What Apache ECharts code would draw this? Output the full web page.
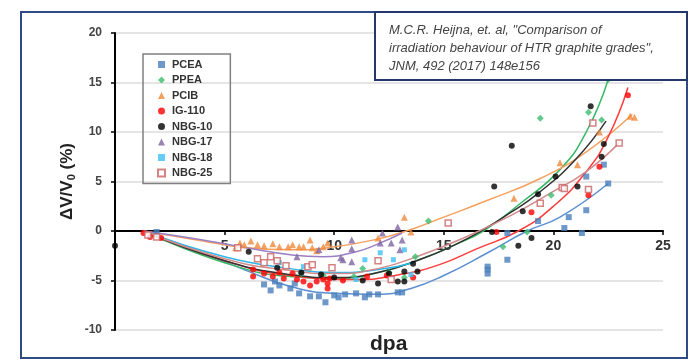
<!DOCTYPE html>
<html>
<head>
<meta charset="utf-8">
<script src="https://cdn.jsdelivr.net/npm/echarts@6/dist/echarts.min.js"></script>
<style>
  html, body { margin: 0; padding: 0; background: #fff; }
  #chart { width: 692px; height: 361px; }
</style>
</head>
<body>
<div id="chart"></div>
<script>
// axis ticks
const xTicks = [0, 5, 10, 15, 20, 25];
const yTicks = [-10, -5, 0, 5, 10, 15, 20];

const gradeNames = ['PCEA', 'PPEA', 'PCIB', 'IG-110', 'NBG-10', 'NBG-17', 'NBG-18', 'NBG-25'];

// measured points [dpa, dV/V0 %]
const pceaPts = [[1.9,-0.1],[6.8,-5.4],[7.1,-6.0],[7.3,-5.1],[7.5,-5.5],[8.0,-5.8],[8.2,-5.3],[8.4,-6.3],[8.9,-6.6],[9.3,-6.6],[9.6,-7.2],[10.0,-6.5],[10.2,-6.7],[10.5,-6.4],[11.0,-6.3],[11.4,-6.7],[11.6,-6.4],[12.0,-6.4],[12.9,-6.2],[13.1,-6.2],[17.0,-3.6],[17.0,-3.9],[17.0,-4.3],[17.9,-2.9],[17.9,-0.2],[19.3,1.0],[20.5,0.3],[20.7,1.4],[21.3,-0.2],[21.5,2.1],[21.5,5.5],[22.3,6.7],[22.5,4.8]];
const ppeaPts = [[8.5,-4.3],[9.5,-4.5],[10.9,-4.6],[11.3,-3.8],[12.5,-4.2],[13.2,-4.7],[13.7,-2.6],[14.3,1.0],[17.7,-1.6],[18.8,-0.1],[19.4,11.4],[19.9,3.6],[21.6,12.0],[22.2,11.2],[22.5,15.3]];
const pcibPts = [[5.5,-1.7],[5.7,-1.2],[5.9,-1.4],[6.2,-1.0],[6.5,-1.4],[6.8,-1.5],[7.2,-1.3],[7.5,-1.6],[7.9,-1.6],[8.1,-1.4],[8.4,-1.6],[8.6,-1.6],[8.9,-0.9],[9.0,-1.7],[9.2,-2.0],[9.5,-1.6],[9.7,-1.2],[12.0,-0.7],[13.2,1.4],[13.5,-0.1],[18.2,3.3],[20.3,6.9],[21.1,6.7],[22.1,10.0],[23.5,11.6],[23.7,11.5]];
const ig110Pts = [[1.3,-0.2],[1.6,-0.6],[2.1,-0.7],[6.3,-3.9],[6.3,-4.6],[6.8,-4.3],[7.2,-4.6],[7.5,-4.2],[7.7,-4.8],[8.1,-4.3],[8.3,-4.9],[8.6,-5.1],[8.9,-5.5],[9.2,-5.1],[9.5,-4.9],[9.7,-5.3],[9.7,-5.8],[9.8,-4.8],[10.4,-5.0],[11.5,-4.6],[12.4,-4.5],[13.6,-4.7],[17.4,-0.1],[19.0,1.9],[21.6,3.6],[22.1,6.5],[23.4,13.7]];
const nbg10Pts = [[0,-1.5],[6.1,-2.1],[7.4,-3.7],[8.5,-4.2],[9.4,-4.4],[10.0,-4.7],[11.3,-5.0],[12.0,-5.3],[12.5,-4.3],[12.9,-5.1],[13.2,-4.1],[13.2,-5.1],[13.6,-3.3],[13.8,-4.1],[17.2,-0.1],[17.3,4.5],[18.1,8.6],[18.4,-1.5],[18.6,2.0],[19.0,-0.7],[19.3,3.7],[20.1,5.5],[21.1,4.5],[21.7,12.6],[22.2,7.5],[22.3,8.8]];
const nbg17Pts = [[8.3,-2.6],[9.3,-1.9],[10.3,-2.7],[10.4,-2.9],[10.8,-0.9],[10.8,-1.8],[10.8,-3.1],[12.1,-1.2],[12.2,-0.2],[12.6,-1.2],[12.9,0.4],[13.0,-1.9],[13.1,-0.9]];
const nbg18Pts = [[7.5,-3.2],[8.6,-3.6],[11.0,-4.9],[11.4,-2.9],[12.1,-2.2],[12.7,-2.9],[13.2,-1.9],[13.5,-4.4]];
const nbg25Pts = [[1.5,-0.4],[1.9,-0.6],[5.6,-1.7],[6.5,-2.8],[6.8,-3.2],[7.1,-2.6],[7.4,-3.0],[7.8,-3.5],[8.8,-3.6],[9.0,-3.4],[9.9,-3.7],[12.0,-3.0],[12.6,-4.9],[15.2,0.8],[19.4,2.8],[20.4,4.4],[20.5,4.3],[21.6,4.2],[21.8,10.9],[23.0,8.9]];

// trend curves
const pceaFit = [[1.3,0],[4,-2.2],[6,-4.0],[8,-5.6],[10,-6.3],[12,-6.4],[13.5,-5.8],[15,-4.5],[17,-2.2],[18.8,0],[20.3,1.4],[22.5,4.8]];
const ppeaFit = [[1.3,0],[5,-3.2],[8,-4.6],[10,-4.8],[12,-4.2],[14,-2.8],[15.5,-1.4],[16.8,0],[18.5,2.8],[20.3,6.2],[21.5,10],[22.5,15.3]];
const pcibFit = [[1.3,0],[4,-1.0],[6,-1.7],[8,-1.9],[10,-1.6],[12,-0.8],[13.3,0],[15,1.4],[17,3.1],[19.4,5.3],[21.5,8.0],[23.6,11.8]];
const ig110Fit = [[1.3,0],[5,-3.0],[8,-4.5],[11,-4.9],[13,-4.4],[14.8,-3.4],[16.5,-1.8],[18.4,0],[20,2.5],[21.5,6],[22.5,9.5],[23.4,14.5]];
const nbg10Fit = [[1.3,0],[5,-3.0],[8,-4.4],[10,-4.7],[12,-4.2],[14,-2.8],[15.5,-1.4],[16.7,0],[18,1.8],[19.3,3.8],[21,7.2],[22.4,11.1]];
const nbg17Fit = [[1.3,0],[4,-0.9],[6,-1.7],[8,-2.4],[9.5,-2.6],[11,-2.1],[12,-1.3],[13.1,-0.2]];
const nbg18Fit = [[1.3,0],[5,-2.6],[8,-3.8],[10,-4.2],[12,-3.9],[13.6,-3.2]];
const nbg25Fit = [[1.3,0],[5,-2.8],[8,-4.0],[10,-4.3],[12,-3.8],[14,-2.4],[16,-0.6],[18,1.5],[20,4.0],[21.5,6.0],[23,8.9]];

const chart = echarts.init(document.getElementById('chart'));
const font = 'Liberation Sans, Arial, sans-serif';

// grid box, the x axis sits on y = 0
const gridTop = 33, gridBottom = 31, chartH = 361;
const plotH = chartH - gridTop - gridBottom;
const zeroOffset = -plotH * (0 - yTicks[0]) / (yTicks[yTicks.length - 1] - yTicks[0]);

// marker style per grade
const styles = [
  { pts: pceaPts, fit: pceaFit, color: '#4a7ebb', line: '#5b8fd0', symbol: 'rect', size: 6 },
  { pts: ppeaPts, fit: ppeaFit, color: '#3dbb6f', line: '#35b865', symbol: 'diamond', size: 7 },
  { pts: pcibPts, fit: pcibFit, color: '#f08a3c', line: '#f5a05e', symbol: 'triangle', size: 7 },
  { pts: ig110Pts, fit: ig110Fit, color: '#ff0000', line: '#ff3b3b', symbol: 'circle', size: 6 },
  { pts: nbg10Pts, fit: nbg10Fit, color: '#000000', line: '#333333', symbol: 'circle', size: 6 },
  { pts: nbg17Pts, fit: nbg17Fit, color: '#8064a2', line: '#9b7fc4', symbol: 'triangle', size: 7 },
  { pts: nbg18Pts, fit: nbg18Fit, color: '#3ec1f3', line: '#2fb7e8', symbol: 'rect', size: 5 },
  { pts: nbg25Pts, fit: nbg25Fit, color: '#c96464', line: '#d28b8b', symbol: 'rect', size: 6, hollow: true }
];

const series = [];
styles.forEach((s, i) => {
  series.push({
    name: gradeNames[i] + ' fit',
    type: 'line',
    data: s.fit,
    smooth: 0.5,
    symbol: 'none',
    lineStyle: { color: s.line, width: 1.5 },
    silent: true,
    z: 2
  });
});
styles.forEach((s, i) => {
  series.push({
    name: gradeNames[i],
    type: 'scatter',
    data: s.pts,
    symbol: s.symbol,
    symbolSize: s.size,
    clip: false,
    itemStyle: s.hollow
      ? { color: '#fff', borderColor: s.color, borderWidth: 1.5 }
      : { color: s.color },
    z: 3
  });
});

chart.setOption({
  backgroundColor: '#fff',
  animation: false,
  grid: { left: 115, right: 29, top: gridTop, bottom: gridBottom },
  xAxis: {
    type: 'value',
    min: xTicks[0],
    max: xTicks[xTicks.length - 1],
    interval: 5,
    position: 'bottom',
    offset: zeroOffset,
    axisLine: { onZero: false, lineStyle: { color: '#000', width: 2 } },
    axisTick: { show: true, length: 4, lineStyle: { color: '#000', width: 1.5 } },
    axisLabel: {
      color: '#333', fontSize: 14, fontWeight: 'bold', fontFamily: font, margin: 8,
      formatter: v => (v === 0 ? '' : String(v))
    },
    splitLine: { show: false },
    z: 1
  },
  yAxis: {
    type: 'value',
    min: yTicks[0],
    max: yTicks[yTicks.length - 1],
    interval: 5,
    name: '{a|ΔV/V}{b|0}{a| (%)}',
    nameLocation: 'middle',
    nameGap: 37,
    nameMoveOverlap: false,
    nameTextStyle: {
      rich: {
        a: { fontSize: 17, fontWeight: 'bold', color: '#222', fontFamily: font, lineHeight: 22 },
        b: { fontSize: 11, fontWeight: 'bold', color: '#222', fontFamily: font, lineHeight: 22, padding: [9, 0, 0, 0] }
      }
    },
    axisLine: { show: true, lineStyle: { color: '#000', width: 2 } },
    axisTick: { show: true, length: 4, lineStyle: { color: '#000', width: 1.5 } },
    axisLabel: { color: '#444', fontSize: 12, fontWeight: 'bold', fontFamily: font, margin: 13 },
    splitLine: { show: true, lineStyle: { color: '#dcdcdc', width: 1.5 } }
  },
  legend: {
    data: gradeNames,
    orient: 'vertical',
    left: 143,
    top: 54,
    padding: [5, 18, 5, 14],
    itemGap: 4.5,
    itemWidth: 7,
    itemHeight: 7,
    borderColor: '#808080',
    borderWidth: 1.5,
    textStyle: { fontSize: 11, fontWeight: 'bold', color: '#333', fontFamily: font, padding: [0, 0, 0, 2] }
  },
  graphic: [
    {
      type: 'rect',
      shape: { x: 21, y: 12, width: 666, height: 346 },
      style: { fill: 'none', stroke: '#2f4b85', lineWidth: 2 },
      silent: true,
      z: 0
    },
    {
      type: 'rect',
      shape: { x: 375, y: 12, width: 312, height: 68 },
      style: { fill: '#fff', stroke: '#24396b', lineWidth: 2 },
      z: 10
    },
    {
      type: 'text',
      left: 389,
      top: 21,
      style: {
        text: 'M.C.R. Heijna, et. al, "Comparison of\nirradiation behaviour of HTR graphite grades",\nJNM, 492 (2017) 148e156',
        font: 'italic 13px ' + font,
        fill: '#444',
        lineHeight: 18
      },
      z: 11
    },
    {
      type: 'text',
      left: 370,
      top: 334,
      style: { text: 'dpa', font: 'bold 21px ' + font, fill: '#222' },
      z: 11
    }
  ],
  series: series
});
</script>
</body>
</html>
